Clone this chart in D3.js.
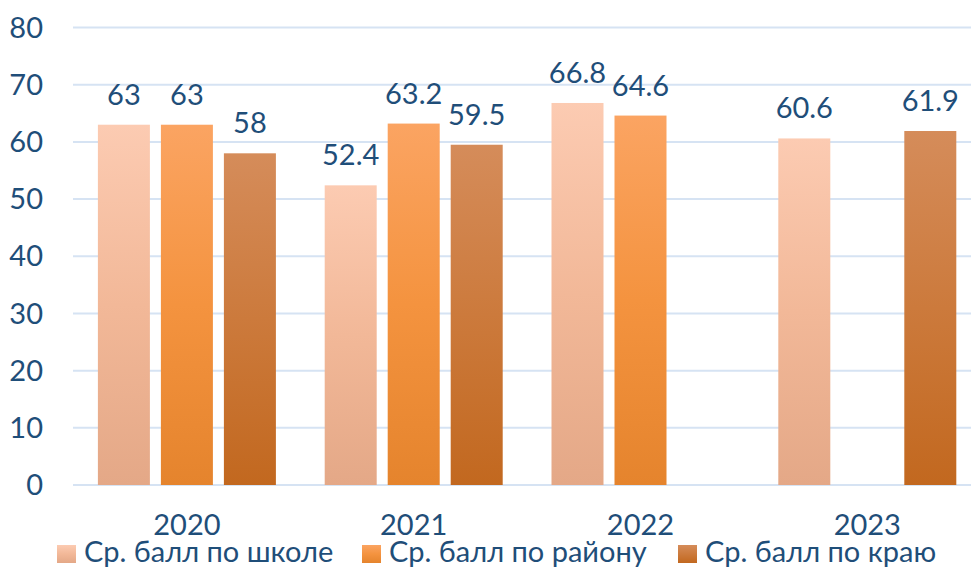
<!DOCTYPE html>
<html><head><meta charset="utf-8">
<script src="https://cdn.jsdelivr.net/npm/d3@7"></script>
<style>
html,body{margin:0;padding:0;background:#fff;}
svg text{font-family:Lato,"Open Sans","Noto Sans",sans-serif;fill:#1f4e79;}
</style></head>
<body><svg id="c" width="971" height="567"></svg>
<script>
const years = ["2020","2021","2022","2023"];
const seriesNames = ["Ср. балл по школе","Ср. балл по району","Ср. балл по краю"];
const school = [63, 52.4, 66.8, 60.6];
const district = [63, 63.2, 64.6, null];
const region = [58, 59.5, null, 61.9];
const yTicks = [0,10,20,30,40,50,60,70,80];

const seriesVals = [school, district, region];
const grads = [
  ["#fccbb2","#f2b898","#e4a887"],
  ["#fba462","#f4933f","#e5842d"],
  ["#d58c5a","#cc7a3c","#c2681f"]
];

const svg = d3.select("#c");
const defs = svg.append("defs");
grads.forEach((g,i)=>{
  const lg = defs.append("linearGradient").attr("id","g"+i).attr("x1",0).attr("y1",0).attr("x2",0).attr("y2",1);
  lg.append("stop").attr("offset","0%").attr("stop-color",g[0]);
  lg.append("stop").attr("offset","50%").attr("stop-color",g[1]);
  lg.append("stop").attr("offset","100%").attr("stop-color",g[2]);
});

const x0 = d3.scaleBand().domain(years).range([73.5, 980.7]).padding(0);
const x1 = d3.scaleBand().domain(d3.range(3)).range([-89, 89]).paddingInner(11/63).paddingOuter(0);
const y = d3.scaleLinear().domain([0,80]).range([485, 27.5]);

const FS = 29;

// grid
svg.append("g").selectAll("line").data(yTicks).join("line")
  .attr("x1",73).attr("x2",971)
  .attr("y1",d=>y(d)).attr("y2",d=>y(d))
  .attr("stroke","#d6e3f3").attr("stroke-width",2);

// y labels
svg.append("g").selectAll("text").data(yTicks).join("text")
  .attr("x",43).attr("y",d=>y(d)).attr("dy","0.35em")
  .attr("text-anchor","end").attr("font-size",FS).text(d=>d);

// bars
const items = [];
years.forEach((yr,i)=>seriesVals.forEach((s,j)=>{ if(s[i]!=null) items.push({yr,j,v:s[i]}); }));
const cx = d=>x0(d.yr)+x0.bandwidth()/2+x1(d.j);
svg.append("g").selectAll("rect").data(items).join("rect")
  .attr("x",cx).attr("width",x1.bandwidth())
  .attr("y",d=>y(d.v)).attr("height",d=>y(0)-y(d.v))
  .attr("fill",d=>"url(#g"+d.j+")");

svg.append("g").selectAll("text").data(items).join("text")
  .attr("x",d=>cx(d)+x1.bandwidth()/2).attr("y",d=>y(d.v)-20)
  .attr("text-anchor","middle").attr("font-size",FS).text(d=>d.v);

// x labels
svg.append("g").selectAll("text").data(years).join("text")
  .attr("x",d=>x0(d)+x0.bandwidth()/2).attr("y",535)
  .attr("text-anchor","middle").attr("font-size",FS).text(d=>d);

// legend
const legX = [57, 362, 678];
const lg = svg.append("g").selectAll("g").data(seriesNames).join("g")
  .attr("transform",(d,i)=>`translate(${legX[i]},0)`);
lg.append("rect").attr("x",0).attr("y",545).attr("width",19).attr("height",18).attr("fill",(d,i)=>"url(#g"+i+")");
lg.append("text").attr("x",27).attr("y",562).attr("font-size",FS).text(d=>d);
</script></body></html>
